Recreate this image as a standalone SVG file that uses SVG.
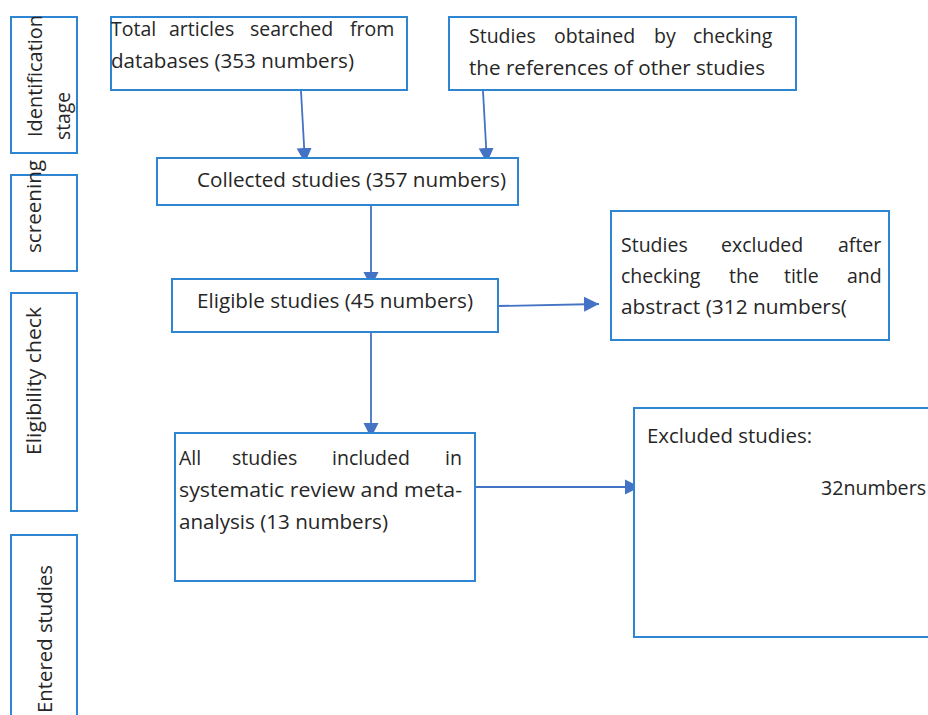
<svg xmlns="http://www.w3.org/2000/svg" width="928" height="715" viewBox="0 0 928 715">
<defs>
<style>
.box{fill:#fff;stroke:#2e86d3;stroke-width:2}
.t{font-family:"Open Sans","Noto Sans","Liberation Sans",sans-serif;font-size:19.5px;fill:#262626}
.c{stroke:#4472c4;stroke-width:1.8;fill:none}
</style>
<marker id="ah" markerUnits="userSpaceOnUse" markerWidth="16" markerHeight="16" viewBox="0 0 16 16" refX="15" refY="8" orient="auto">
<path d="M0,0.5 L15,8 L0,15.5 Z" fill="#4472c4"/>
</marker>
</defs>
<rect width="928" height="715" fill="#fff"/>

<g id="stage-identification">
<rect class="box" x="11" y="17" width="66" height="136"/>
<text class="t" transform="translate(42,137) rotate(-90)" textLength="122" lengthAdjust="spacingAndGlyphs">Identification</text>
<text class="t" transform="translate(70,140) rotate(-90)" textLength="48" lengthAdjust="spacingAndGlyphs">stage</text>
</g>
<g id="stage-screening">
<rect class="box" x="11" y="175" width="66" height="96"/>
<text class="t" transform="translate(41,253) rotate(-90)" textLength="93" lengthAdjust="spacingAndGlyphs">screening</text>
</g>
<g id="stage-eligibility">
<rect class="box" x="11" y="293" width="66" height="218"/>
<text class="t" transform="translate(41,455) rotate(-90)" textLength="148" lengthAdjust="spacingAndGlyphs">Eligibility check</text>
</g>
<g id="stage-entered">
<rect class="box" x="11" y="535" width="66" height="190"/>
<text class="t" transform="translate(52,713) rotate(-90)" textLength="148" lengthAdjust="spacingAndGlyphs">Entered studies</text>
</g>

<g id="connectors">
<line class="c" x1="301" y1="91" x2="305" y2="163" marker-end="url(#ah)"/>
<line class="c" x1="483" y1="91" x2="487" y2="163" marker-end="url(#ah)"/>
<line class="c" x1="371" y1="206" x2="371" y2="287" marker-end="url(#ah)"/>
<line class="c" x1="371" y1="333" x2="371" y2="438" marker-end="url(#ah)"/>
<line class="c" x1="498" y1="306" x2="599" y2="304" marker-end="url(#ah)"/>
<line class="c" x1="476" y1="487" x2="640" y2="487" marker-end="url(#ah)"/>
</g>

<g id="total-articles">
<rect class="box" x="111" y="17" width="296" height="73"/>
<text class="t" y="36"><tspan x="111">Total</tspan><tspan x="169">articles</tspan><tspan x="250">searched</tspan><tspan x="350">from</tspan></text>
<text class="t" x="111" y="68" textLength="243" lengthAdjust="spacingAndGlyphs">databases (353 numbers)</text>
</g>
<g id="studies-obtained">
<rect class="box" x="449" y="17" width="347" height="73"/>
<text class="t" y="43"><tspan x="469">Studies</tspan><tspan x="554">obtained</tspan><tspan x="654">by</tspan><tspan x="693">checking</tspan></text>
<text class="t" x="469" y="75" textLength="296" lengthAdjust="spacingAndGlyphs">the references of other studies</text>
</g>
<g id="collected">
<rect class="box" x="157" y="158" width="361" height="47"/>
<text class="t" x="197" y="187" textLength="309" lengthAdjust="spacingAndGlyphs">Collected studies (357 numbers)</text>
</g>
<g id="eligible">
<rect class="box" x="172" y="279" width="326" height="53"/>
<text class="t" x="197" y="308" textLength="276" lengthAdjust="spacingAndGlyphs">Eligible studies (45 numbers)</text>
</g>
<g id="excluded-title">
<rect class="box" x="611" y="211" width="278" height="129"/>
<text class="t" y="252"><tspan x="621">Studies</tspan><tspan x="721">excluded</tspan><tspan x="838">after</tspan></text>
<text class="t" y="283"><tspan x="621">checking</tspan><tspan x="729">the</tspan><tspan x="784">title</tspan><tspan x="847">and</tspan></text>
<text class="t" x="621" y="314" textLength="226" lengthAdjust="spacingAndGlyphs">abstract (312 numbers(</text>
</g>
<g id="included">
<rect class="box" x="175" y="433" width="300" height="148"/>
<text class="t" y="465"><tspan x="179">All</tspan><tspan x="232">studies</tspan><tspan x="332">included</tspan><tspan x="445">in</tspan></text>
<text class="t" x="179" y="497" textLength="283" lengthAdjust="spacingAndGlyphs">systematic review and meta-</text>
<text class="t" x="179" y="529" textLength="209" lengthAdjust="spacingAndGlyphs">analysis (13 numbers)</text>
</g>
<g id="excluded-studies">
<rect class="box" x="634" y="408" width="310" height="229"/>
<text class="t" x="647" y="443" textLength="165" lengthAdjust="spacingAndGlyphs">Excluded studies:</text>
<text class="t" x="821" y="495" textLength="105" lengthAdjust="spacingAndGlyphs">32numbers</text>
</g>
</svg>
